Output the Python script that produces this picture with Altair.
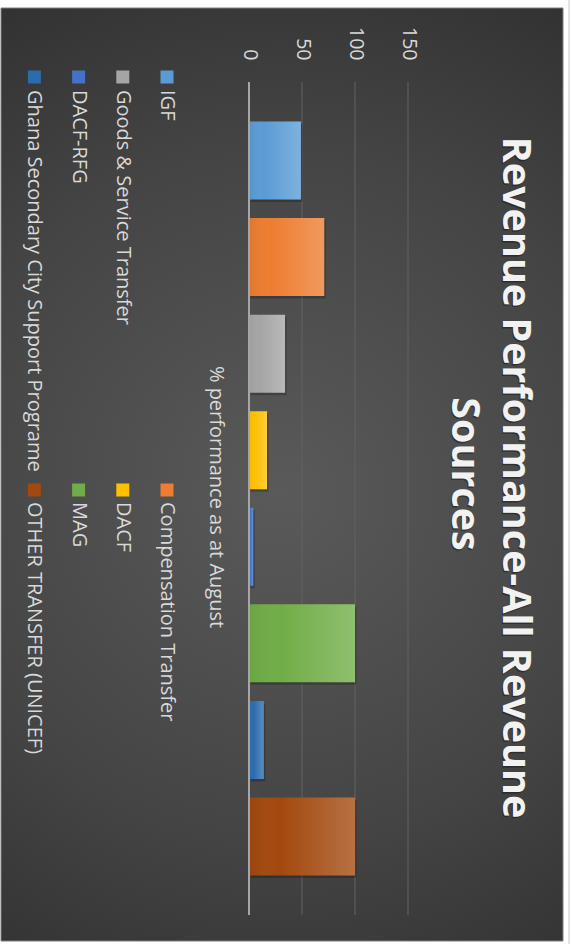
import altair as alt
import pandas as pd

# ---------------- data ----------------
sources = [
    "IGF",
    "Compensation Transfer",
    "Goods & Service Transfer",
    "DACF",
    "DACF-RFG",
    "MAG",
    "Ghana Secondary City Support Programe",
    "OTHER TRANSFER (UNICEF)",
]
performance = [49, 71, 34, 17, 4, 100, 14, 100]
colors = ["#5B9BD5", "#ED7D31", "#A5A5A5", "#FFC000", "#4472C4", "#70AD47", "#2C6CAE", "#A3490F"]
value_ticks = [0, 50, 100, 150]
grid_ticks = [50, 100, 150]
title_lines = ["Revenue Performance-All Reveune", "Sources"]
category_label = "% performance as at August"

# ---------------- layout ----------------
FONT = "Open Sans"
W, H = 159, 833
PAD = {"left": 249, "top": 82, "right": 164, "bottom": 29}
TXT = "#d9d9d9"

df = pd.DataFrame({"source": sources, "value": performance})
ticks_df = pd.DataFrame({"tick": grid_ticks})
zero_df = pd.DataFrame({"tick": [0]})

x_scale = alt.Scale(domain=[0, 150], nice=False)
x_axis = alt.Axis(
    orient="top", values=value_ticks, labelAngle=90, labelAlign="right",
    labelBaseline="middle", labelPadding=22, labelColor=TXT, labelFontSize=19.5,
    labelFont=FONT, ticks=False, domain=False, grid=False, title=None, zindex=1,
)
y_enc = alt.Y(
    "source:N", sort=sources,
    scale=alt.Scale(paddingInner=0.192, paddingOuter=0.409),
    axis=None,
)


def one():
    return alt.Chart(pd.DataFrame({"t": [""]}))


# background panel with radial gradient
bg = one().mark_rect(
    fill=alt.RadialGradient(
        gradient="radial",
        stops=[
            alt.GradientStop(color="#5a5a5a", offset=0),
            alt.GradientStop(color="#444444", offset=0.5),
            alt.GradientStop(color="#262626", offset=1),
        ],
        x1=0.5, y1=0.52, x2=0.5, y2=0.52, r1=0, r2=0.75,
    ),
    stroke="#7f7f7f", strokeWidth=1,
).encode(
    x=alt.value(-248), x2=alt.value(314), y=alt.value(-74), y2=alt.value(859)
)

edge = one().mark_rule(color="#c8c8c8", strokeWidth=1).encode(
    x=alt.value(320), y=alt.value(-82), y2=alt.value(862)
)

grid = alt.Chart(ticks_df).mark_rule(color="#626262", strokeWidth=1).encode(
    x=alt.X("tick:Q", scale=x_scale, axis=x_axis),
    y=alt.value(0), y2=alt.value(H),
)

shadow = alt.Chart(df).mark_bar(color="black", opacity=0.22, yOffset=2.5, xOffset=1.5).encode(
    x=alt.X("value:Q", scale=x_scale, axis=x_axis), y=y_enc
)

bars = alt.Chart(df).mark_bar().encode(
    x=alt.X("value:Q", scale=x_scale, axis=x_axis),
    y=y_enc,
    color=alt.Color("source:N", scale=alt.Scale(domain=sources, range=colors), legend=None),
)

sheen = alt.Chart(df).mark_bar(
    fill=alt.LinearGradient(
        gradient="linear",
        stops=[
            alt.GradientStop(color="rgba(0,0,0,0.06)", offset=0),
            alt.GradientStop(color="rgba(255,255,255,0.0)", offset=0.3),
            alt.GradientStop(color="rgba(255,255,255,0.22)", offset=1),
        ],
        x1=0, x2=1, y1=0, y2=0,
    )
).encode(x=alt.X("value:Q", scale=x_scale, axis=x_axis), y=y_enc)

zero = alt.Chart(zero_df).mark_rule(color="#a6a6a6", strokeWidth=2).encode(
    x=alt.X("tick:Q", scale=x_scale, axis=x_axis),
    y=alt.value(0), y2=alt.value(H),
)


def text(t, x, y, size, color=TXT, weight="normal", align="left", baseline="middle", opacity=1.0):
    return alt.Chart(pd.DataFrame({"t": [t]})).mark_text(
        angle=90, align=align, baseline=baseline, font=FONT, fontSize=size,
        fontWeight=weight, color=color, opacity=opacity,
    ).encode(x=alt.value(x), y=alt.value(y), text="t:N")


layers = [bg, edge, grid, shadow, bars, sheen, zero]

# title (two lines, with a soft shadow)
title_x = [254, 203]
title_y = [395.5, 392]
for line, tx, ty in zip(title_lines, title_x, title_y):
    layers.append(text(line, tx - 1.5, ty + 1.5, 39.5, color="black", weight="bold",
                       align="center", baseline="alphabetic", opacity=0.35))
    layers.append(text(line, tx, ty, 39.5, color="#f2f2f2", weight="bold",
                       align="center", baseline="alphabetic"))

# category axis label
layers.append(text(category_label, -39, 415, 20, align="center", baseline="alphabetic"))

# manual legend (rotated)
col_x0, col_dx = -82, -44.2
slot_sq_y = [-5, 408]
slot_tx_y = [8, 420]
for i, (name, c) in enumerate(zip(sources, colors)):
    cx = col_x0 + col_dx * (i // 2)
    s = i % 2
    sq = one().mark_rect(color=c).encode(
        x=alt.value(cx - 6.5), x2=alt.value(cx + 6.5),
        y=alt.value(slot_sq_y[s] - 6.5), y2=alt.value(slot_sq_y[s] + 6.5),
    )
    layers.append(sq)
    layers.append(text(name, cx, slot_tx_y[s], 20))

chart = alt.layer(*layers).properties(
    width=W, height=H,
    autosize=alt.AutoSizeParams(type="none"),
    padding=PAD,
    background="white",
).configure_view(stroke=None)

chart.save("out.html", embed_options={"renderer": "svg", "actions": False})
